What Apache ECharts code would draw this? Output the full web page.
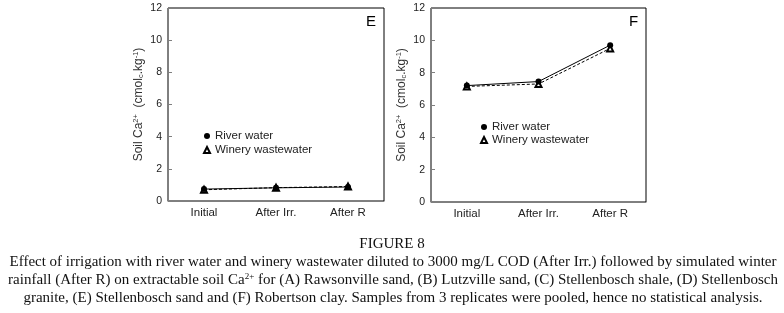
<!DOCTYPE html>
<html>
<head>
<meta charset="utf-8">
<script src="https://cdn.jsdelivr.net/npm/echarts@6/dist/echarts.min.js"></script>
<style>
  html, body { margin: 0; padding: 0; background: #fff; }
  #chart { width: 784px; height: 313px; }
</style>
</head>
<body>
<div id="chart"></div>
<script>
// data
const categories = ['Initial', 'After Irr.', 'After R'];
const riverE = [0.74, 0.82, 0.87];
const wineryE = [0.70, 0.83, 0.90];
const riverF = [7.20, 7.45, 9.70];
const wineryF = [7.15, 7.30, 9.50];
const yTicks = [0, 2, 4, 6, 8, 10, 12];
const seriesNames = ['River water', 'Winery wastewater'];

const chart = echarts.init(document.getElementById('chart'));

const axisGray = '#7f7f7f';
const labelFont = 'Liberation Sans, Arial, sans-serif';
const serif = 'Liberation Serif, Times New Roman, serif';

function xAxisFor(grid) {
  return {
    type: 'category',
    gridIndex: grid,
    data: categories,
    boundaryGap: true,
    axisLine: { lineStyle: { color: axisGray, width: 1 } },
    axisTick: { inside: true, length: 4, lineStyle: { color: axisGray } },
    axisLabel: { color: '#222', fontSize: 11.5, fontFamily: labelFont, margin: 6 },
    splitLine: { show: false }
  };
}

function yAxisFor(grid) {
  return {
    type: 'value',
    gridIndex: grid,
    min: yTicks[0],
    max: yTicks[yTicks.length - 1],
    interval: 2,
    axisLine: { show: true, lineStyle: { color: axisGray, width: 1 } },
    axisTick: { show: true, inside: true, length: 4, lineStyle: { color: axisGray } },
    axisLabel: { color: '#222', fontSize: 10.5, fontFamily: labelFont, margin: 6 },
    splitLine: { show: false },
    name: 'Soil Ca{sup|2+}  (cmol{sub|c}.kg{sup|-1})',
    nameLocation: 'middle',
    nameGap: 23,
    nameTextStyle: {
      color: '#333', fontSize: 12, fontFamily: labelFont,
      rich: {
        sup: { fontSize: 7.5, verticalAlign: 'top', padding: [0, 0, 5, 0], color: '#333', fontFamily: labelFont },
        sub: { fontSize: 7.5, verticalAlign: 'bottom', padding: [5, 0, 0, 0], color: '#333', fontFamily: labelFont }
      }
    }
  };
}

function river(grid, values) {
  return {
    name: seriesNames[0], type: 'line', xAxisIndex: grid, yAxisIndex: grid,
    data: values, symbol: 'circle', symbolSize: 6, z: 3,
    itemStyle: { color: '#000' },
    lineStyle: { color: '#000', width: 1 }
  };
}

function winery(grid, values) {
  return {
    name: seriesNames[1], type: 'line', xAxisIndex: grid, yAxisIndex: grid,
    data: values, symbol: 'emptyTriangle', symbolSize: 6, z: 2,
    itemStyle: { color: '#000', borderColor: '#000', borderWidth: 1 },
    lineStyle: { color: '#000', width: 1, type: [3, 2] }
  };
}

function legendAt(left, top, gap) {
  return {
    left: left, top: top, orient: 'vertical', itemGap: gap,
    itemWidth: 6, itemHeight: 6,
    textStyle: { fontSize: 11.5, color: '#222', fontFamily: labelFont, padding: [0, 0, 0, 0] },
    data: [
      { name: seriesNames[0], icon: 'circle' },
      { name: seriesNames[1], icon: 'emptyTriangle' }
    ],
    selectedMode: false
  };
}

chart.setOption({
  backgroundColor: '#fff',
  animation: false,
  grid: [
    { left: 168, top: 8, width: 216, height: 193, show: true, borderColor: '#000', borderWidth: 1, backgroundColor: 'transparent' },
    { left: 431, top: 8, width: 215, height: 194, show: true, borderColor: '#000', borderWidth: 1, backgroundColor: 'transparent' }
  ],
  xAxis: [xAxisFor(0), xAxisFor(1)],
  yAxis: [yAxisFor(0), yAxisFor(1)],
  legend: [legendAt(198, 125, 2), legendAt(475, 116, 1)],
  series: [
    winery(0, wineryE), river(0, riverE),
    winery(1, wineryF), river(1, riverF)
  ],
  graphic: [
    { type: 'text', left: 366, top: 14, style: { text: 'E', fontSize: 15, fill: '#000', fontFamily: labelFont } },
    { type: 'text', left: 629, top: 14, style: { text: 'F', fontSize: 15, fill: '#000', fontFamily: labelFont } },
    { type: 'text', x: 392, y: 244, style: { text: 'FIGURE 8', fontSize: 15, fill: '#111', fontFamily: serif, align: 'center', verticalAlign: 'middle' } },
    { type: 'text', x: 393, y: 262, style: { text: 'Effect of irrigation with river water and winery wastewater diluted to 3000 mg/L COD (After Irr.) followed by simulated winter', fontSize: 15, fill: '#111', fontFamily: serif, align: 'center', verticalAlign: 'middle' } },
    { type: 'text', x: 393, y: 280, style: {
      text: 'rainfall (After R) on extractable soil Ca{sup|2+} for (A) Rawsonville sand, (B) Lutzville sand, (C) Stellenbosch shale, (D) Stellenbosch',
      fontSize: 15, fill: '#111', fontFamily: serif, align: 'center', verticalAlign: 'middle',
      rich: { sup: { fontSize: 9, verticalAlign: 'top', padding: [0, 0, 6, 0], fill: '#111', fontFamily: serif } }
    } },
    { type: 'text', x: 393, y: 298, style: { text: 'granite, (E) Stellenbosch sand and (F) Robertson clay. Samples from 3 replicates were pooled, hence no statistical analysis.', fontSize: 15, fill: '#111', fontFamily: serif, align: 'center', verticalAlign: 'middle' } }
  ]
});
</script>
</body>
</html>
